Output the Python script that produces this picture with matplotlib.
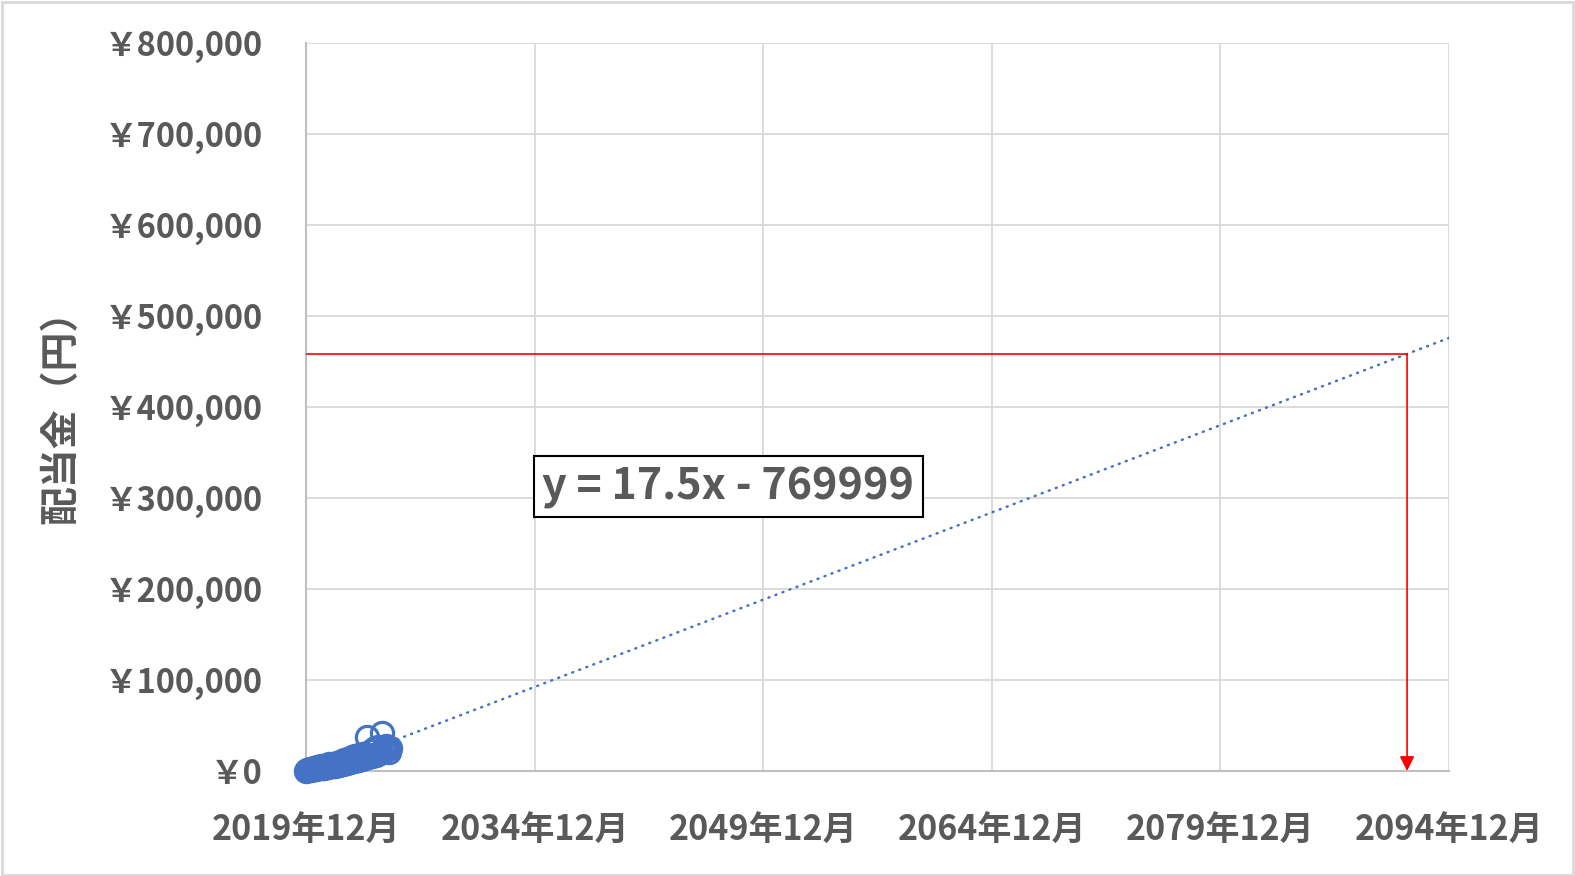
import matplotlib
matplotlib.use('Agg')
import matplotlib.pyplot as plt
import matplotlib.dates as mdates
from matplotlib.patches import Rectangle
from matplotlib.ticker import FixedLocator, FuncFormatter
import datetime as dt

plt.rcParams['font.family'] = ['Noto Sans CJK JP', 'DejaVu Sans']

# ---- data ----
months = (
    ['2019-12'] +
    ['2020-%02d' % m for m in range(1, 13)] +
    ['2021-%02d' % m for m in range(1, 13)] +
    ['2022-%02d' % m for m in range(1, 13)] +
    ['2023-%02d' % m for m in range(1, 13)] +
    ['2024-%02d' % m for m in range(1, 13)] +
    ['2025-%02d' % m for m in range(1, 7)]
)
dividends = [
    500,
    800, 1200, 2500, 1500, 1800, 3500, 2000, 2500, 4000, 2800, 3000, 5000,
    3500, 3800, 6000, 4200, 4500, 7500, 5000, 5200, 7800, 5500, 6000, 9000,
    6500, 6800, 10000, 7500, 7800, 12000, 8500, 9000, 13000, 9500, 10000, 15000,
    10500, 11000, 16000, 12000, 12500, 18000, 13000, 13500, 19000, 14000, 15000, 37000,
    15500, 16000, 22000, 17000, 17500, 25000, 18000, 19000, 26000, 20000, 21000, 42000,
    22000, 23000, 28000, 24000, 21000, 25000,
]
trend_slope = 17.5          # yen per day (Excel serial)
trend_intercept = -769999
y_ticks = [0, 100000, 200000, 300000, 400000, 500000, 600000, 700000, 800000]
x_tick_dates = ['2019-12-01', '2034-12-01', '2049-12-01', '2064-12-01', '2079-12-01', '2094-12-01']
x_tick_labels = ['2019年12月', '2034年12月', '2049年12月', '2064年12月', '2079年12月', '2094年12月']
target_date = '2092-03-01'
equation_text = 'y = 17.5x - 769999'
y_label = '配当金（円）'

# ---- helpers ----
EXCEL_OFFSET = 25569  # Excel serial of 1970-01-01


def dnum(s):
    return mdates.date2num(dt.datetime.strptime(s, '%Y-%m-%d'))


def trend(num):
    return trend_slope * (num + EXCEL_OFFSET) + trend_intercept


x_pts = [dnum(m + '-01') for m in months]
x_ticks = [dnum(s) for s in x_tick_dates]
x_min, x_max = x_ticks[0], x_ticks[-1]

BLUE = '#4472C4'
TXT = '#595959'

fig = plt.figure(figsize=(15.75, 8.76), dpi=100)
ax = fig.add_axes([306 / 1575, 1 - 771 / 876, (1449 - 306) / 1575, (771 - 43) / 876])

# grid
ax.set_axisbelow(True)
ax.grid(True, color='#D9D9D9', lw=1.3)

# trendline
ax.plot([x_min, x_max], [trend(x_min), trend(x_max)], color=BLUE, lw=1.8,
        linestyle=(0, (0.4, 2.6)), dash_capstyle='round', zorder=3, clip_on=True)

# red guide lines
tx = dnum(target_date)
ty = trend(tx)
ax.plot([x_min, tx], [ty, ty], color='red', lw=1.2, zorder=4)
ax.annotate('', xy=(tx, 0), xytext=(tx, ty),
            arrowprops=dict(arrowstyle='-|>', color='red', lw=1.2,
                            mutation_scale=22, shrinkA=0, shrinkB=0),
            zorder=4)

# data points
ax.plot(x_pts, dividends, linestyle='none', marker='o', markersize=16,
        markerfacecolor='none', markeredgecolor=BLUE, markeredgewidth=2.3,
        zorder=5, clip_on=False)

ax.set_xlim(x_min, x_max)
ax.set_ylim(0, 800000)
ax.xaxis.set_major_locator(FixedLocator(x_ticks))
ax.set_xticklabels(x_tick_labels)
ax.yaxis.set_major_locator(FixedLocator(y_ticks))
ax.yaxis.set_major_formatter(FuncFormatter(lambda v, p: '￥' + format(int(v), ',')))

for lab in ax.get_xticklabels():
    lab.set_fontsize(24.5)
    lab.set_fontweight('bold')
    lab.set_color(TXT)
for lab in ax.get_yticklabels():
    lab.set_fontsize(23.5)
    lab.set_fontweight('bold')
    lab.set_color(TXT)
ax.tick_params(axis='both', length=0)
ax.tick_params(axis='y', pad=31)
ax.tick_params(axis='x', pad=30)

for side in ['top', 'right']:
    ax.spines[side].set_visible(False)
for side in ['left', 'bottom']:
    ax.spines[side].set_color('#BFBFBF')
    ax.spines[side].set_linewidth(1.5)

ax.set_ylabel(y_label, fontsize=28, fontweight='bold', color=TXT)
ax.yaxis.set_label_coords(-0.1975, 0.5)

# equation box
ax.text(dnum('2035-06-01'), 312500, equation_text, fontsize=31, fontweight='bold',
        color=TXT, ha='left', va='center', zorder=6,
        bbox=dict(boxstyle='square,pad=0.2', facecolor='white', edgecolor='black', lw=1.5))

# chart border
fig.patches.append(Rectangle((0.001, 0.001), 0.998, 0.997, transform=fig.transFigure,
                             fill=False, edgecolor='#D9D9D9', lw=2))

fig.savefig('out.png', dpi=100, facecolor='white')
